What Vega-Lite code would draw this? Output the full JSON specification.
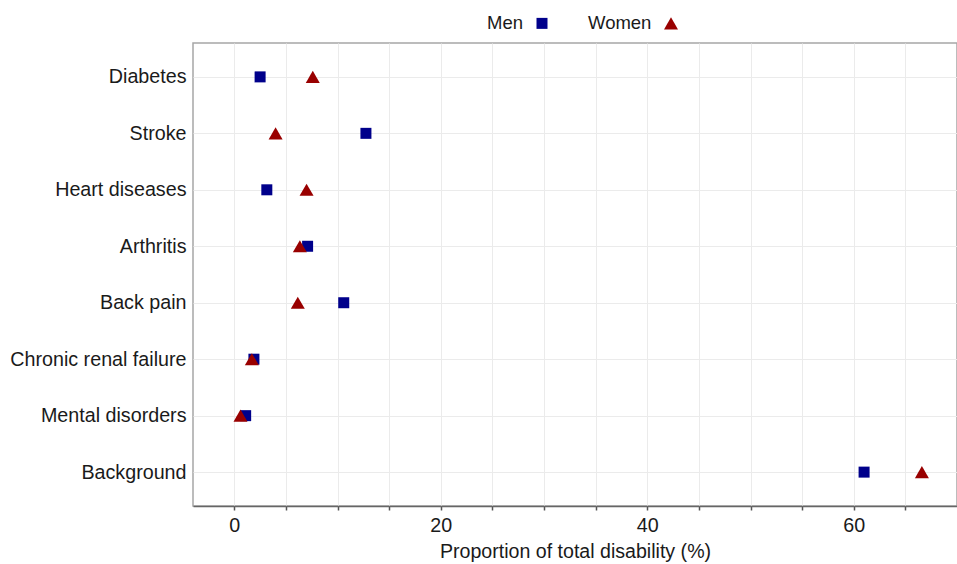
{
  "$schema": "https://vega.github.io/schema/vega-lite/v6.json",
  "width": 764,
  "height": 463,
  "autosize": {"type": "none"},
  "padding": {"left": 193, "top": 43, "right": 0, "bottom": 58},
  "background": "white",
  "config": {
    "font": "Liberation Sans",
    "view": {"stroke": "#a6a6a6", "strokeWidth": 1.5}
  },
  "data": {
    "values": [
      {"cause": "Diabetes", "sex": "Men", "value": 2.5},
      {"cause": "Stroke", "sex": "Men", "value": 12.75},
      {"cause": "Heart diseases", "sex": "Men", "value": 3.15},
      {"cause": "Arthritis", "sex": "Men", "value": 7.1},
      {"cause": "Back pain", "sex": "Men", "value": 10.6},
      {"cause": "Chronic renal failure", "sex": "Men", "value": 1.9},
      {"cause": "Mental disorders", "sex": "Men", "value": 1.1},
      {"cause": "Background", "sex": "Men", "value": 61.0},
      {"cause": "Diabetes", "sex": "Women", "value": 7.6},
      {"cause": "Stroke", "sex": "Women", "value": 4.0},
      {"cause": "Heart diseases", "sex": "Women", "value": 7.0},
      {"cause": "Arthritis", "sex": "Women", "value": 6.35},
      {"cause": "Back pain", "sex": "Women", "value": 6.15},
      {"cause": "Chronic renal failure", "sex": "Women", "value": 1.7},
      {"cause": "Mental disorders", "sex": "Women", "value": 0.6},
      {"cause": "Background", "sex": "Women", "value": 66.6}
    ]
  },
  "mark": {"type": "point", "filled": true, "opacity": 1},
  "encoding": {
    "y": {
      "field": "cause",
      "type": "nominal",
      "sort": ["Diabetes", "Stroke", "Heart diseases", "Arthritis", "Back pain", "Chronic renal failure", "Mental disorders", "Background"],
      "scale": {"type": "point", "padding": 0.6},
      "axis": {
        "title": null,
        "domain": false,
        "ticks": false,
        "grid": true,
        "gridColor": "#ebebeb",
        "gridWidth": 1,
        "labelFontSize": 19.7,
        "labelColor": "#1a1a1a",
        "labelPadding": 7
      }
    },
    "x": {
      "field": "value",
      "type": "quantitative",
      "scale": {"domain": [-4, 70], "nice": false, "zero": false},
      "axis": {
        "title": "Proportion of total disability (%)",
        "titleFontSize": 19.6,
        "titleFontWeight": "normal",
        "titleColor": "#1a1a1a",
        "titlePadding": 8,
        "values": [0, 5, 10, 15, 20, 25, 30, 35, 40, 45, 50, 55, 60, 65],
        "labelExpr": "datum.value % 20 == 0 ? datum.label : ''",
        "labelFontSize": 19.7,
        "labelColor": "#1a1a1a",
        "labelPadding": 5,
        "tickSize": 4,
        "tickColor": "#555555",
        "tickWidth": 1.5,
        "domainColor": "#666666",
        "domainWidth": 1.5,
        "grid": true,
        "gridColor": "#ebebeb",
        "gridWidth": 1
      }
    },
    "color": {
      "field": "sex",
      "type": "nominal",
      "scale": {"domain": ["Men", "Women"], "range": ["#00008b", "#990000"]},
      "legend": {
        "title": null,
        "orient": "none",
        "legendX": 294,
        "legendY": -29,
        "direction": "horizontal",
        "columns": 2,
        "columnPadding": 40,
        "labelFontSize": 18.5,
        "labelColor": "#1a1a1a",
        "symbolStrokeWidth": 0,
        "symbolOpacity": 1,
        "encode": {
          "labels": {"update": {"x": {"value": 0}, "align": {"value": "left"}}},
          "symbols": {"update": {"x": {"signal": "datum.label == 'Men' ? 55 : 83"}}}
        }
      }
    },
    "shape": {
      "field": "sex",
      "type": "nominal",
      "scale": {"domain": ["Men", "Women"], "range": ["square", "triangle-up"]}
    },
    "size": {
      "field": "sex",
      "type": "nominal",
      "scale": {"domain": ["Men", "Women"], "range": [121, 196]}
    }
  }
}
